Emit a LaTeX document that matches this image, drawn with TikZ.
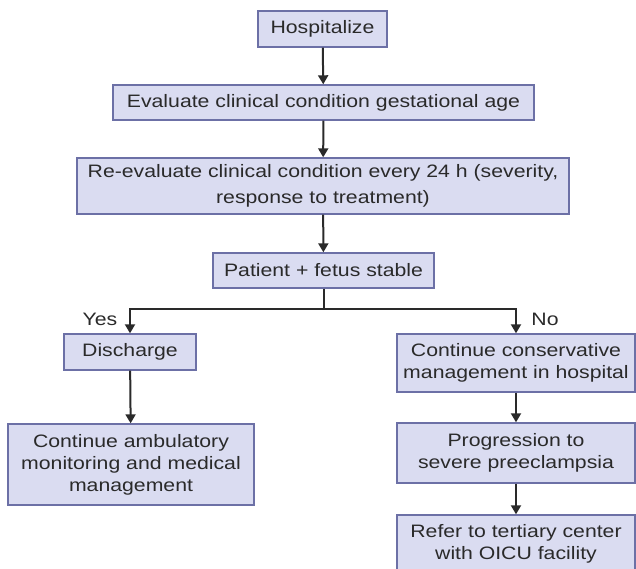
\documentclass[tikz,border=0pt]{standalone}
\usepackage{fontspec}
\setmainfont[FakeStretch=1.18]{Liberation Sans}
\usetikzlibrary{arrows.meta}
\definecolor{boxfill}{HTML}{DADCF1}
\definecolor{boxline}{HTML}{6C70A6}
\definecolor{ink}{HTML}{2A2A2A}
\tikzset{
  stepbox/.style={draw=boxline, line width=1.4pt, fill=boxfill, text=ink,
    align=center, inner sep=0pt, font=\fontsize{18}{22}\selectfont},
  flow/.style={draw=ink, line width=2pt, -{Triangle[length=9pt,width=10pt]}},
  branch/.style={draw=ink, line width=2pt},
  lbl/.style={text=ink, inner sep=0pt, font=\fontsize{18}{22}\selectfont}
}
\begin{document}
\begin{tikzpicture}[x=1pt,y=-1pt]
  \useasboundingbox (0,0) rectangle (636,569);
  \clip (0,0) rectangle (636,569);
  % main column
  \node[stepbox, minimum width=129pt, minimum height=36pt] (hosp) at (322.5,29) {Hospitalize};
  \node[stepbox, minimum width=421pt, minimum height=35pt] (eval) at (323.5,102.5) {Evaluate clinical condition gestational age};
  \node[stepbox, minimum width=492pt, minimum height=56pt, font=\fontsize{18}{26}\selectfont] (reeval) at (323,186)
    {Re-evaluate clinical condition every 24 h (severity,\\ response to treatment)};
  \node[stepbox, minimum width=221pt, minimum height=35pt] (stable) at (323.5,270.5) {Patient + fetus stable};
  % left branch
  \node[stepbox, minimum width=132pt, minimum height=36pt] (discharge) at (130,352) {Discharge};
  \node[stepbox, minimum width=246pt, minimum height=81pt] (amb) at (131,464.5)
    {Continue ambulatory\\ monitoring and medical\\ management};
  % right branch
  \node[stepbox, minimum width=238pt, minimum height=58pt] (cons) at (516,363)
    {Continue conservative\\ management in hospital};
  \node[stepbox, minimum width=238pt, minimum height=60pt] (prog) at (516,453)
    {Progression to\\ severe preeclampsia};
  \node[stepbox, minimum width=238pt, minimum height=58pt] (refer) at (516,544)
    {Refer to tertiary center\\ with OICU facility};
  % connectors
  \draw[flow] (hosp) -- (eval);
  \draw[flow] (eval) -- (reeval);
  \draw[flow] (reeval) -- (stable);
  \coordinate (split) at ([yshift=-20pt]stable.south);
  \draw[branch] (stable) -- (split);
  \draw[flow] (split) -| (discharge);
  \draw[flow] (split) -| (cons);
  \draw[flow] (discharge) -- (amb);
  \draw[flow] (cons) -- (prog);
  \draw[flow] (prog) -- (refer);
  % branch labels
  \node[lbl] (yes) at (100,319) {Yes};
  \node[lbl] (no) at (545,319) {No};
\end{tikzpicture}
\end{document}
